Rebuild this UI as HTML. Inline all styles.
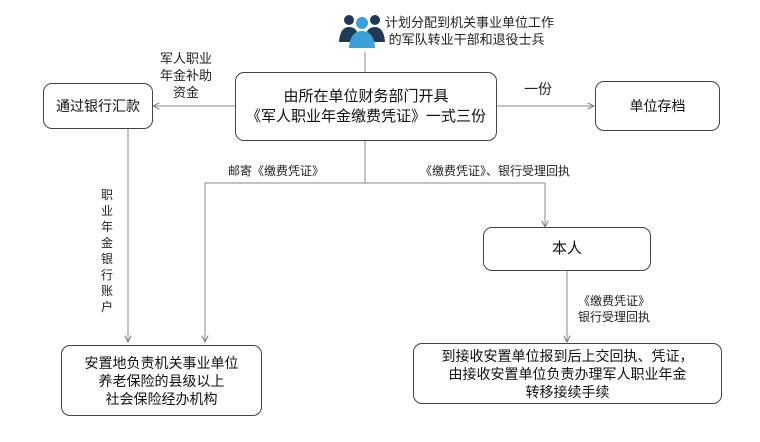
<!DOCTYPE html>
<html><head><meta charset="utf-8"><style>
body{margin:0;background:#fff;}
#c{position:relative;width:760px;height:442px;overflow:hidden;font-family:"Liberation Sans","Noto Sans CJK SC",sans-serif;color:#111;}
.b{position:absolute;border:1.3px solid #444;border-radius:9px;box-sizing:border-box;display:flex;align-items:center;justify-content:center;text-align:center;font-size:14px;line-height:18px;background:#fff;}
.t{position:absolute;font-size:12px;line-height:16px;color:#222;text-align:center;white-space:nowrap;}
svg{position:absolute;left:0;top:0;}
</style></head><body><div id="c">
<svg width="760" height="442">
<defs><marker id="a" viewBox="0 0 10 10" refX="9" refY="5" markerWidth="8" markerHeight="8" orient="auto"><path d="M1,1 L9,5 L1,9" fill="none" stroke="#777" stroke-width="1.2"/></marker></defs>
<g stroke="#888" stroke-width="1" fill="none">
<line x1="365" y1="52" x2="365" y2="72"/>
<line x1="235" y1="106" x2="153" y2="106" marker-end="url(#a)"/>
<line x1="497" y1="106" x2="594" y2="106" marker-end="url(#a)"/>
<line x1="365" y1="140" x2="365" y2="183"/>
<line x1="205" y1="183" x2="545" y2="183"/>
<line x1="205" y1="183" x2="205" y2="342" marker-end="url(#a)"/>
<line x1="545" y1="183" x2="545" y2="227" marker-end="url(#a)"/>
<line x1="128" y1="128" x2="128" y2="342" marker-end="url(#a)"/>
<line x1="567" y1="270" x2="567" y2="342" marker-end="url(#a)"/>
</g>
<g>
<circle cx="349" cy="20" r="5" fill="#1f3a56"/><path d="M339,42 Q340,27 349,27 Q356,27 358,34 L356,42Z" fill="#1f3a56"/>
<circle cx="375" cy="20" r="5" fill="#1f3a56"/><path d="M385,42 Q384,27 375,27 Q368,27 366,34 L368,42Z" fill="#1f3a56"/>
<circle cx="362" cy="23" r="6" fill="#3aa0d6"/><path d="M349,48 Q350,31 362,31 Q374,31 375,48Z" fill="#3aa0d6"/>
</g>
</svg>
<div class="t" style="left:385px;top:14px;font-size:13px;text-align:left;line-height:17px">计划分配到机关事业单位工作<br>&nbsp;的军队转业干部和退役士兵</div>
<div class="b" style="left:43px;top:83px;width:110px;height:46px">通过银行汇款</div>
<div class="b" style="left:235px;top:72px;width:262px;height:69px;font-size:15px;line-height:20px">由所在单位财务部门开具<br>《军人职业年金缴费凭证》一式三份</div>
<div class="b" style="left:595px;top:81px;width:125px;height:50px">单位存档</div>
<div class="b" style="left:483px;top:227px;width:168px;height:44px;font-size:15px">本人</div>
<div class="b" style="left:61px;top:345px;width:201px;height:71px">安置地负责机关事业单位<br>养老保险的县级以上<br>社会保险经办机构</div>
<div class="b" style="left:413px;top:343px;width:309px;height:61px">到接收安置单位报到后上交回执、凭证，<br>由接收安置单位负责办理军人职业年金<br>转移接续手续</div>
<div class="t" style="left:160px;top:50px;font-size:13px;line-height:17px">军人职业<br>年金补助<br>资金</div>
<div class="t" style="left:524px;top:81px;font-size:14px">一份</div>
<div class="t" style="left:228px;top:163px">邮寄《缴费凭证》</div>
<div class="t" style="left:420px;top:163px">《缴费凭证》、银行受理回执</div>
<div class="t" style="left:100px;top:187px;width:14px;white-space:normal;line-height:16px">职业年金银行账户</div>
<div class="t" style="left:578px;top:293px;line-height:16px">《缴费凭证》<br>银行受理回执</div>
</div></body></html>
